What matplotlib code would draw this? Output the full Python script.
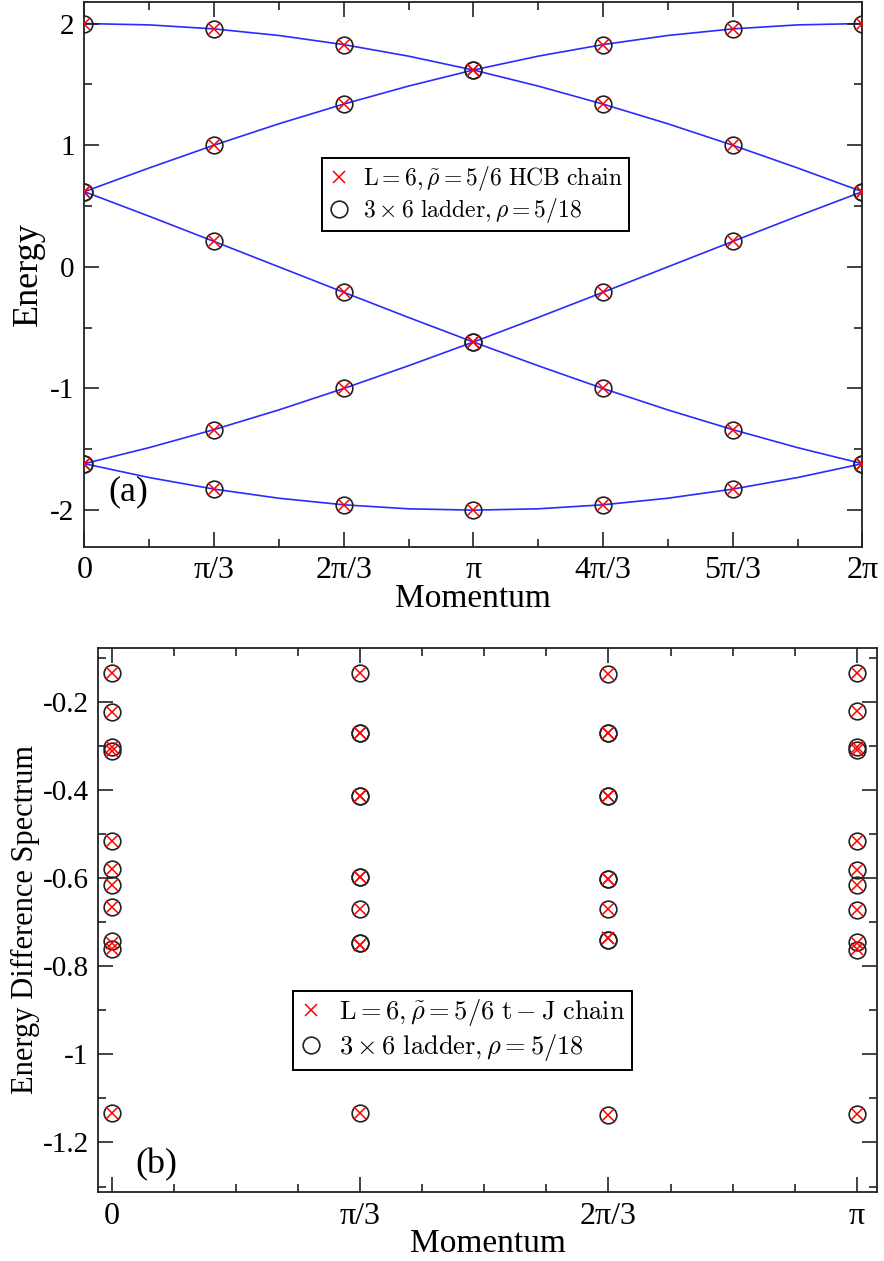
import numpy as np
import matplotlib
matplotlib.use("Agg")
import matplotlib.pyplot as plt

plt.rcParams["font.family"] = ["Liberation Serif", "DejaVu Serif"]
plt.rcParams["mathtext.fontset"] = "cm"

# ── data: panel (a), HCB chain vs ladder ──────────────────────────────
# momentum in units of pi/3 (markers) and pi/6 (dispersion lines)
k_pts = [0, 1, 2, 3, 4, 5, 6]
k_line = [0, 1, 2, 3, 4, 5, 6, 7, 8, 9, 10, 11, 12]

band_lines = [
    [2.0, 1.989, 1.956, 1.902, 1.827, 1.732, 1.618, 1.486, 1.338, 1.176, 1.0, 0.813, 0.618],
    [0.618, 0.416, 0.209, 0.0, -0.209, -0.416, -0.618, -0.813, -1.0, -1.176, -1.338, -1.486, -1.618],
    [-1.618, -1.732, -1.827, -1.902, -1.956, -1.989, -2.0, -1.989, -1.956, -1.902, -1.827, -1.732, -1.618],
    [-1.618, -1.486, -1.338, -1.176, -1.0, -0.813, -0.618, -0.416, -0.209, 0.0, 0.209, 0.416, 0.618],
    [0.618, 0.813, 1.0, 1.176, 1.338, 1.486, 1.618, 1.732, 1.827, 1.902, 1.956, 1.989, 2.0],
]
chain_E = [
    [2.0, 1.956, 1.827, 1.618, 1.338, 1.0, 0.618],
    [0.618, 0.209, -0.209, -0.618, -1.0, -1.338, -1.618],
    [-1.618, -1.827, -1.956, -2.0, -1.956, -1.827, -1.618],
    [-1.618, -1.338, -1.0, -0.618, -0.209, 0.209, 0.618],
    [0.618, 1.0, 1.338, 1.618, 1.827, 1.956, 2.0],
]
ladder_E = [
    [2.0, 1.956, 1.827, 1.618, 1.338, 1.0, 0.618],
    [0.618, 0.209, -0.209, -0.618, -1.0, -1.338, -1.618],
    [-1.618, -1.827, -1.956, -2.0, -1.956, -1.827, -1.618],
    [-1.618, -1.338, -1.0, -0.618, -0.209, 0.209, 0.618],
    [0.618, 1.0, 1.338, 1.618, 1.827, 1.956, 2.0],
]

# ── data: panel (b), t-J chain vs ladder (momentum in units of pi/3) ─
kb = [0, 1, 2, 3]
tj_chain = [
    [-0.136, -0.223, -0.302, -0.313, -0.517, -0.579, -0.617, -0.667, -0.747, -0.761, -1.133],
    [-0.136, -0.272, -0.272, -0.415, -0.415, -0.598, -0.598, -0.671, -0.752, -0.752, -1.133],
    [-0.137, -0.271, -0.271, -0.415, -0.415, -0.603, -0.603, -0.670, -0.737, -0.737, -1.137],
    [-0.136, -0.221, -0.302, -0.310, -0.517, -0.583, -0.617, -0.672, -0.748, -0.761, -1.135],
]
ladder_b = [
    [-0.136, -0.223, -0.302, -0.313, -0.517, -0.579, -0.617, -0.667, -0.744, -0.761, -1.133],
    [-0.136, -0.272, -0.272, -0.415, -0.415, -0.598, -0.598, -0.671, -0.747, -0.747, -1.133],
    [-0.137, -0.271, -0.271, -0.415, -0.415, -0.603, -0.603, -0.670, -0.740, -0.740, -1.137],
    [-0.136, -0.221, -0.302, -0.310, -0.517, -0.583, -0.617, -0.672, -0.745, -0.763, -1.135],
]

top_ticklabels = ["0", "π/3", "2π/3", "π", "4π/3", "5π/3", "2π"]
bot_ticklabels = ["0", "π/3", "2π/3", "π"]

label_chain_a = r"$\mathrm{L}=6,\tilde{\rho}=5/6\ \mathrm{HCB\ chain}$"
label_chain_b = r"$\mathrm{L}=6,\tilde{\rho}=5/6\ \mathrm{t}-\mathrm{J\ chain}$"
label_ladder = r"$3\times6\ \mathrm{ladder},\rho=5/18$"

third = np.pi / 3

fig = plt.figure(figsize=(8.84, 12.61), dpi=100)
ax1 = fig.add_axes([0.0954, 0.5665, 0.8801, 0.4319])
ax2 = fig.add_axes([0.1112, 0.0545, 0.8806, 0.4319])


def style_axes(ax):
    for sp in ax.spines.values():
        sp.set_linewidth(1.3)
        sp.set_color("#222222")
    ax.tick_params(which="both", direction="in", top=True, right=True,
                   width=1.2, color="#222222")
    ax.tick_params(axis="x", labelsize=23, pad=7)
    ax.tick_params(axis="y", labelsize=21, pad=7)
    ax.tick_params(which="major", length=11)
    ax.tick_params(which="minor", length=5.5)


def add_legend(ax, anchor, size):
    h, l = ax.get_legend_handles_labels()
    leg = ax.legend(h[::-1], l[::-1], loc="upper left", bbox_to_anchor=anchor,
                    borderaxespad=0, fontsize=size, frameon=True, fancybox=False,
                    handlelength=0.9, handletextpad=0.6, borderpad=0.25,
                    labelspacing=0.15, framealpha=1)
    leg.get_frame().set_edgecolor("black")
    leg.get_frame().set_linewidth(1.4)


# ── (a) ───────────────────────────────────────────────────────────────
kl = np.array(k_line) * np.pi / 6
kp = np.array(k_pts) * third
for line in band_lines:
    ax1.plot(kl, line, "-", color="#2b2bff", lw=1.2, zorder=1)
for i, E in enumerate(ladder_E):
    ax1.plot(kp, E, "o", mfc="none", mec="#222222", mew=1.2, ms=12,
             label=label_ladder if i == 0 else None, zorder=3)
for i, E in enumerate(chain_E):
    ax1.plot(kp, E, "x", color="red", mew=1.1, ms=8,
             label=label_chain_a if i == 0 else None, zorder=4)

ax1.set_xlim(0, 2 * np.pi)
ax1.set_ylim(-2.3, 2.177)
ax1.set_xticks(kp)
ax1.set_xticklabels(top_ticklabels)
ax1.set_xticks(np.arange(1, 12, 2) * np.pi / 6, minor=True)
ax1.set_yticks([-2, -1, 0, 1, 2])
ax1.set_yticklabels(["-2", "-1", "0", "1", "2"])
ax1.set_yticks([-1.5, -0.5, 0.5, 1.5], minor=True)
style_axes(ax1)
ax1.set_xlabel("Momentum", fontsize=24, labelpad=-1)
ax1.set_ylabel("Energy", fontsize=26, labelpad=4)
ax1.text(0.031, 0.085, "(a)", transform=ax1.transAxes, fontsize=26)
add_legend(ax1, (0.3055, 0.7136), 17)

# ── (b) ───────────────────────────────────────────────────────────────
for i, (k, E) in enumerate(zip(kb, ladder_b)):
    ax2.plot([k * third] * len(E), E, "o", mfc="none", mec="#222222", mew=1.2,
             ms=12, label=label_ladder if i == 0 else None, zorder=3)
for i, (k, E) in enumerate(zip(kb, tj_chain)):
    ax2.plot([k * third] * len(E), E, "x", color="red", mew=1.1, ms=8,
             label=label_chain_b if i == 0 else None, zorder=4)

ax2.set_xlim(-0.057, 3.226)
ax2.set_ylim(-1.313, -0.0776)
ax2.set_xticks(np.array(kb) * third)
ax2.set_xticklabels(bot_ticklabels)
ax2.set_xticks(np.arange(1, 12) * np.pi / 12, minor=True)
ax2.set_yticks([-1.2, -1.0, -0.8, -0.6, -0.4, -0.2])
ax2.set_yticklabels(["-1.2", "-1", "-0.8", "-0.6", "-0.4", "-0.2"])
ax2.set_yticks([-1.3, -1.1, -0.9, -0.7, -0.5, -0.3, -0.1], minor=True)
style_axes(ax2)
ax2.set_xlabel("Momentum", fontsize=24, labelpad=-2)
ax2.set_ylabel("Energy Difference Spectrum", fontsize=22, labelpad=2)
ax2.text(0.048, 0.035, "(b)", transform=ax2.transAxes, fontsize=26)
add_legend(ax2, (0.2501, 0.370), 19)

fig.savefig("out.png", dpi=100)
